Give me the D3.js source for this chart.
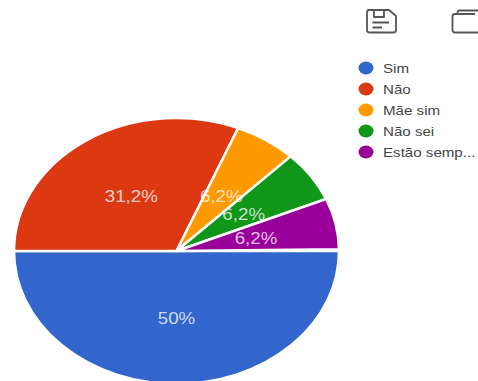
<!DOCTYPE html>
<html>
<head>
<meta charset="utf-8">
<script src="https://cdn.jsdelivr.net/npm/d3@7/dist/d3.min.js"></script>
<style>
html,body{margin:0;padding:0;background:#fff;overflow:hidden}
text{font-family:"Liberation Sans",Arial,sans-serif}
</style>
</head>
<body>
<svg id="chart" width="478" height="381"></svg>
<script>
const categories = ["Sim", "Não", "Mãe sim", "Não sei", "Estão semp..."];
const seriesValues = [50, 31.2, 6.2, 6.2, 6.2];
const sliceLabels = ["50%", "31,2%", "6,2%", "6,2%", "6,2%"];
const sliceColors = ["#3366cc", "#dc3912", "#ff9900", "#109618", "#990099"];

const svg = d3.select("#chart");
const cx = 176.5, cy = 251, rx = 162.5, ry = 133;
const squash = ry / rx;

// Each slice takes its stated share of a full turn; the rounded
// percentages add up to slightly under 100.
const total = d3.sum(seriesValues);
const pie = d3.pie().sort(null).value(d => d)
  .startAngle(Math.PI / 2)
  .endAngle(Math.PI / 2 + 2 * Math.PI * total / 100);
const arc = d3.arc().innerRadius(0).outerRadius(rx);
const slices = pie(seriesValues);

// The pie is drawn as a circle and flattened vertically.
const pieGroup = svg.append("g")
  .attr("transform", `translate(${cx},${cy}) scale(1,${squash})`);

pieGroup.selectAll("path").data(slices).join("path")
  .attr("d", arc)
  .attr("fill", (d, i) => sliceColors[i])
  .attr("stroke", "#fff")
  .attr("stroke-width", 2.5)
  .attr("vector-effect", "non-scaling-stroke");

// Percentages sit at the centroid of each slice, slightly widened.
svg.append("g").selectAll("text").data(slices).join("text")
  .attr("transform", d => {
    const [x, y] = arc.centroid(d);
    return `translate(${cx + x},${cy + y * squash + 0.5}) scale(1.17,1)`;
  })
  .attr("text-anchor", "middle")
  .attr("dy", "0.36em")
  .attr("font-size", 16)
  .attr("fill", "#fff")
  .attr("fill-opacity", 0.76)
  .text((d, i) => sliceLabels[i]);

// Legend
const legendY = d3.scalePoint().domain(categories).range([68, 152]);
const legend = svg.append("g").selectAll("g").data(categories).join("g")
  .attr("transform", d => `translate(366,${legendY(d)})`);
legend.append("ellipse")
  .attr("rx", 7.5).attr("ry", 6.5)
  .attr("fill", (d, i) => sliceColors[i]);
legend.append("text")
  .attr("transform", "translate(17,0) scale(1.21,1)")
  .attr("dy", "0.36em")
  .attr("font-size", 12.5)
  .attr("fill", "#444")
  .text(d => d);

// Toolbar icons: save and copy
const icons = svg.append("g")
  .attr("fill", "none").attr("stroke", "#555").attr("stroke-width", 1.8)
  .attr("stroke-linejoin", "round");
icons.append("path")
  .attr("d", "M369 10H389L396 16V30Q396 32.5 393.5 32.5H369.5Q367 32.5 367 30V12.5Q367 10 369 10Z");
icons.append("path").attr("d", "M374 10.5V17H384V10.5");
icons.append("path").attr("d", "M372.5 22.5H389M372.5 27.5H382");
icons.append("path")
  .attr("d", "M457.5 14V12.5Q457.5 10.5 459.5 10.5H478M478 32.5H455Q452.5 32.5 452.5 30V16.5Q452.5 14 455 14H475");
</script>
</body>
</html>
